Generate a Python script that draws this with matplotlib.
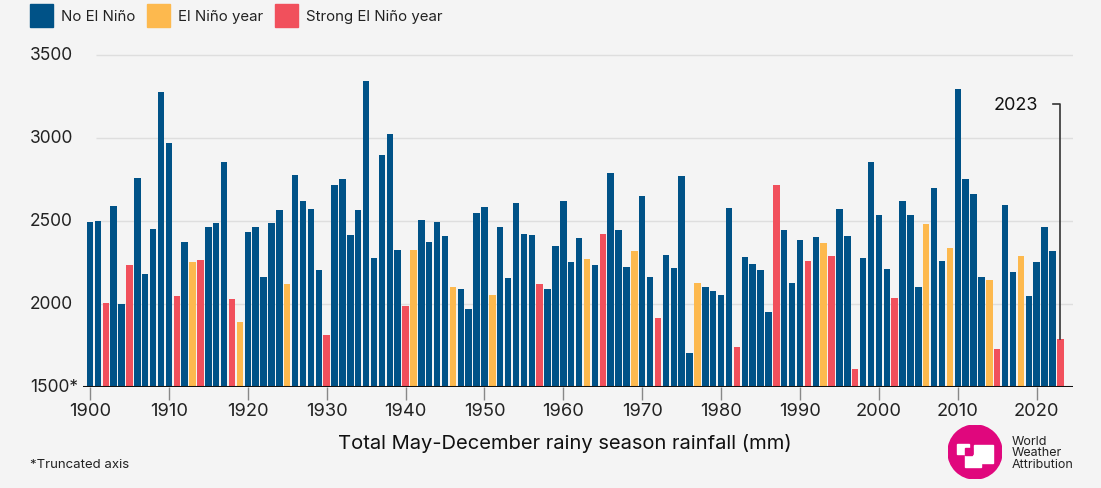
import matplotlib
matplotlib.use("Agg")
import matplotlib.pyplot as plt
from matplotlib.patches import Circle, Rectangle

# May-December rainfall (mm), 1900-2023
years = list(range(1900, 2024))
rainfall = [
    2490, 2496, 2004, 2590, 2000, 2234, 2760, 2180, 2448, 3276,   # 1900s
    2970, 2050, 2374, 2254, 2264, 2460, 2484, 2854, 2028, 1894,   # 1910s
    2434, 2462, 2164, 2488, 2564, 2122, 2776, 2620, 2570, 2206,   # 1920s
    1810, 2716, 2750, 2414, 2564, 3342, 2276, 2896, 3020, 2326,   # 1930s
    1988, 2326, 2502, 2374, 2490, 2406, 2102, 2090, 1970, 2550,   # 1940s
    2586, 2054, 2460, 2154, 2606, 2420, 2412, 2118, 2090, 2346,   # 1950s
    2620, 2250, 2394, 2270, 2234, 2422, 2786, 2442, 2222, 2320,   # 1960s
    2648, 2164, 1916, 2296, 2218, 2770, 1706, 2128, 2102, 2076,   # 1970s
    2056, 2578, 1740, 2284, 2242, 2202, 1954, 2718, 2442, 2126,   # 1980s
    2382, 2256, 2400, 2366, 2288, 2570, 2408, 1606, 2274, 2856,   # 1990s
    2536, 2212, 2036, 2618, 2536, 2100, 2478, 2696, 2256, 2334,   # 2000s
    3294, 2750, 2662, 2160, 2146, 1726, 2594, 2194, 2290, 2050,   # 2010s
    2254, 2460, 2318, 1790,                                       # 2020s
]
el_nino_years = [1913, 1919, 1925, 1941, 1946, 1951, 1963, 1969, 1977,
                 1993, 2006, 2009, 2014, 2018]
strong_el_nino_years = [1902, 1905, 1911, 1914, 1918, 1930, 1940, 1957,
                        1965, 1972, 1982, 1987, 1991, 1994, 1997, 2002,
                        2015, 2023]
y_ticks = [1500, 2000, 2500, 3000, 3500]
y_tick_labels = ["1500*", "2000", "2500", "3000", "3500"]
x_ticks = list(range(1900, 2021, 10))

BLUE = "#005287"
YELLOW = "#fdb94e"
RED = "#f1505c"
MAGENTA = "#e0077d"
BG = "#f4f4f4"
font = "Inter"

colors = []
for yr in years:
    if yr in strong_el_nino_years:
        colors.append(RED)
    elif yr in el_nino_years:
        colors.append(YELLOW)
    else:
        colors.append(BLUE)

W, H = 1101, 489
fig = plt.figure(figsize=(W / 100, H / 100), dpi=100, facecolor=BG)
ax = fig.add_axes([83 / W, 1 - 388 / H, (1073 - 83) / W, (388 - 45) / H])
ax.set_facecolor(BG)

x_lo, x_hi = 1899.11, 2024.6
ax.set_xlim(x_lo, x_hi)
ax.set_ylim(1500, 3564)

ax.hlines(y_ticks[1:], 1900.7, x_hi, colors="#dedede", linewidth=1, zorder=0)
ax.bar(years, [r - 1500 for r in rainfall], bottom=1500, width=0.82,
       color=colors, zorder=2)
ax.axhline(1500, color="#111111", linewidth=2.2, zorder=3)

for s in ax.spines.values():
    s.set_visible(False)
ax.set_xticks(x_ticks)
ax.set_xticklabels([str(x) for x in x_ticks], fontsize=13.2, family=font,
                   color="#222222")
ax.tick_params(axis="x", length=9, width=1, color="#888888", pad=2)
ax.set_yticks([])
# y labels are left aligned in the original
for val, lbl in zip(y_ticks, y_tick_labels):
    ax.text(-53 / (1073 - 83), val, lbl, transform=ax.get_yaxis_transform(),
            fontsize=12.5, family=font, color="#222222", ha="left",
            va="center")

# 2023 callout
fig.text(1038 / W, 1 - 105 / H, "2023", fontsize=13, family=font,
         ha="right", va="center", color="#111111")
ax.plot([2022.1, 2023, 2023], [3200, 3200, 1790], color="#333333",
        linewidth=1.2, zorder=4, clip_on=False)

# legend
legend_items = [("No El Niño", BLUE, 30), ("El Niño year", YELLOW, 147),
                ("Strong El Niño year", RED, 275)]
for label, col, x0 in legend_items:
    fig.patches.append(Rectangle((x0 / W, 1 - 28 / H), 23 / W, 23 / H,
                                 transform=fig.transFigure, color=col))
    fig.text((x0 + 31) / W, 1 - 17 / H, label, fontsize=10.8, family=font,
             va="center", ha="left", color="#222222")

fig.text(565 / W, 1 - 444 / H, "Total May-December rainy season rainfall (mm)",
         fontsize=14.5, family=font, ha="center", va="center", color="#111111")
fig.text(30 / W, 1 - 465 / H, "*Truncated axis", fontsize=9.5, family=font,
         ha="left", va="center", color="#222222")

# logo
lx, ly, r = 975, 453, 27
lax = fig.add_axes([(lx - r) / W, 1 - (ly + r) / H, 2 * r / W, 2 * r / H])
lax.set_xlim(-1, 1)
lax.set_ylim(-1, 1)
lax.axis("off")
lax.add_patch(Circle((0, 0), 1, color=MAGENTA))
for (sx, sy, sw, sh, c) in [(-0.05, -0.42, 0.72, 0.68, "white"),
                            (-0.68, -0.08, 0.45, 0.36, "white"),
                            (-0.38, -0.55, 0.6, 0.45, "white"),
                            (-0.36, -0.1, 0.24, 0.24, MAGENTA)]:
    lax.add_patch(Rectangle((sx, sy), sw, sh, color=c))
for i, word in enumerate(["World", "Weather", "Attribution"]):
    fig.text(1012 / W, 1 - (442 + i * 11.5) / H, word, fontsize=9,
             family=font, ha="left", va="center", color="#222222")

fig.savefig("out.png", dpi=100, facecolor=BG)
